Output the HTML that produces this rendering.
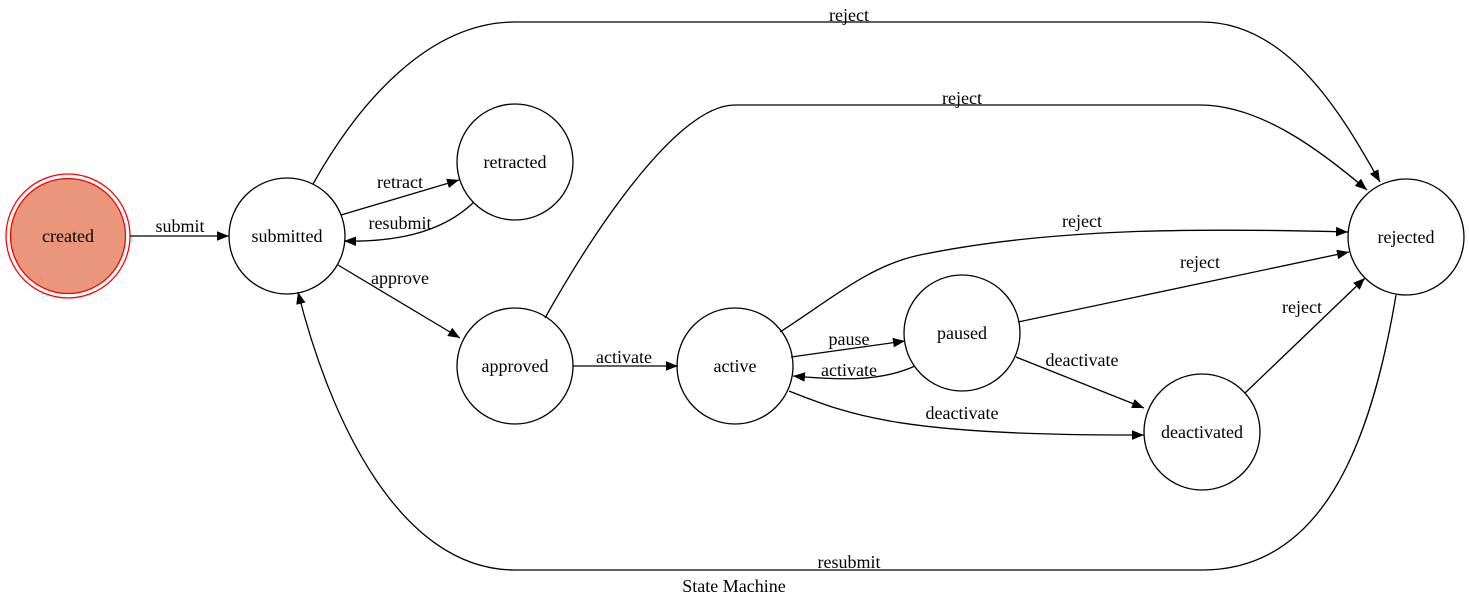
<!DOCTYPE html>
<html><head><meta charset="utf-8"><style>
html,body{margin:0;padding:0;background:#fff;}
svg{display:block;}
text{font-family:"Liberation Serif",serif;font-size:18px;fill:#000;}
</style></head><body>
<svg width="1469" height="605" viewBox="0 0 1469 605" xmlns="http://www.w3.org/2000/svg">
<defs>
<marker id="a" viewBox="0 0 10 10" refX="10" refY="5" markerWidth="12" markerHeight="12" markerUnits="userSpaceOnUse" orient="auto">
<path d="M0,1 L10,5 L0,9 Z" fill="#000"/>
</marker>
</defs>
<g fill="none" stroke="#000" stroke-width="1.3">
<circle cx="68" cy="236" r="62" stroke="#f00"/>
<circle cx="68" cy="236" r="57.5" stroke="#f00" fill="#e9967a"/>
<circle cx="287" cy="236" r="58"/>
<circle cx="515" cy="162" r="58"/>
<circle cx="515" cy="366" r="58"/>
<circle cx="735" cy="366" r="58"/>
<circle cx="962" cy="333" r="58"/>
<circle cx="1202" cy="432" r="58"/>
<circle cx="1406" cy="237" r="58"/>
<path d="M130,236 L229,236" marker-end="url(#a)"/>
<path d="M341,215 L459,180" marker-end="url(#a)"/>
<path d="M474,202 C440,235 390,242 344,241" marker-end="url(#a)"/>
<path d="M338,265 L460,338" marker-end="url(#a)"/>
<path d="M573,366 L678,366" marker-end="url(#a)"/>
<path d="M791,357 L905,341" marker-end="url(#a)"/>
<path d="M915,366 C880,382 840,380 793,376" marker-end="url(#a)"/>
<path d="M1016,357 L1144,408" marker-end="url(#a)"/>
<path d="M789,391 C850,415 900,436 1144,435" marker-end="url(#a)"/>
<path d="M1245,393 L1365,278" marker-end="url(#a)"/>
<path d="M1018,322 L1349,252" marker-end="url(#a)"/>
<path d="M780,332 C830,300 870,265 920,255 C1050,228 1200,228 1348,232" marker-end="url(#a)"/>
<path d="M545,318 C600,220 680,105 735,105 L1200,105 C1260,105 1320,150 1367,190" marker-end="url(#a)"/>
<path d="M313,184 C360,100 430,22 515,22 L1202,22 C1290,22 1345,120 1380,182" marker-end="url(#a)"/>
<path d="M1396,295 C1370,450 1320,570 1202,570 L515,570 C400,570 330,420 298,292" marker-end="url(#a)"/>
</g>
<g text-anchor="middle">
<text x="68" y="242">created</text>
<text x="287" y="242">submitted</text>
<text x="515" y="168">retracted</text>
<text x="515" y="372">approved</text>
<text x="735" y="372">active</text>
<text x="962" y="339">paused</text>
<text x="1202" y="438">deactivated</text>
<text x="1406" y="243">rejected</text>
<text x="180" y="232">submit</text>
<text x="400" y="188">retract</text>
<text x="400" y="229">resubmit</text>
<text x="400" y="284">approve</text>
<text x="624" y="363">activate</text>
<text x="849" y="345">pause</text>
<text x="849" y="376">activate</text>
<text x="1082" y="366">deactivate</text>
<text x="962" y="419">deactivate</text>
<text x="1302" y="313">reject</text>
<text x="1200" y="268">reject</text>
<text x="1082" y="227">reject</text>
<text x="962" y="104">reject</text>
<text x="849" y="21">reject</text>
<text x="849" y="568">resubmit</text>
<text x="734" y="592">State Machine</text>
</g>
</svg>
</body></html>
